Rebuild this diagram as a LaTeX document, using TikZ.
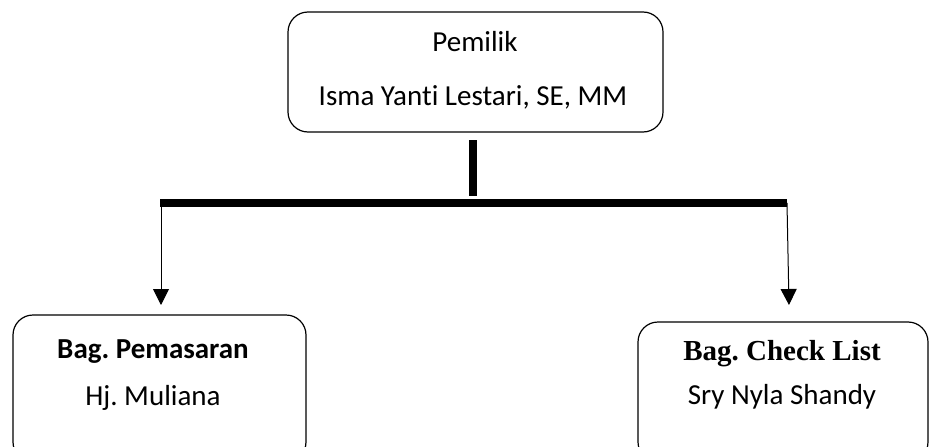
\documentclass[tikz,border=0pt]{standalone}
\usepackage{fontspec}
\setmainfont[Ligatures=NoCommon]{Carlito}
\newfontfamily\timesfont{Liberation Serif}
\usetikzlibrary{arrows.meta}
\frenchspacing
\begin{document}
\begin{tikzpicture}[x=1pt,y=-1pt,
  box/.style={draw,line width=1.2pt,rounded corners=20pt},
  txt/.style={font=\fontsize{29}{34}\selectfont},
  arr/.style={line width=1pt,-{Triangle[width=16pt,length=16pt]}}]
\useasboundingbox (0,0) rectangle (930,447);
\draw[box] (288,12) rectangle (663,132);
\node[txt] (p1) at (475,42) {Pemilik};
\node[txt] (p2) at (473,97) {Isma Yanti Lestari, SE, MM};
\coordinate (top) at (473,140);
\coordinate (mid) at (473,196);
\coordinate (bl) at (160,203);
\coordinate (br) at (787,203);
\draw[line width=8pt] (top) -- (mid);
\draw[line width=8pt] (bl) -- (br);
\coordinate (bl2) at (161,203);
\coordinate (al) at (161,305);
\coordinate (ar) at (789,305);
\draw[arr] (bl2) -- (al);
\draw[arr] (br) -- (ar);
\draw[box] (13,315) rectangle (306,462);
\node[font=\fontsize{29}{34}\selectfont\bfseries] (l1) at (153,352) {Bag. Pemasaran};
\node[txt] (l2) at (153,398) {Hj. Muliana};
\draw[box] (638,322) rectangle (928,462);
\node[font=\fontsize{29}{34}\selectfont\timesfont\bfseries] (r1) at (782,354) {Bag. Check List};
\node[txt] (r2) at (782,397) {Sry Nyla Shandy};
\end{tikzpicture}
\end{document}
